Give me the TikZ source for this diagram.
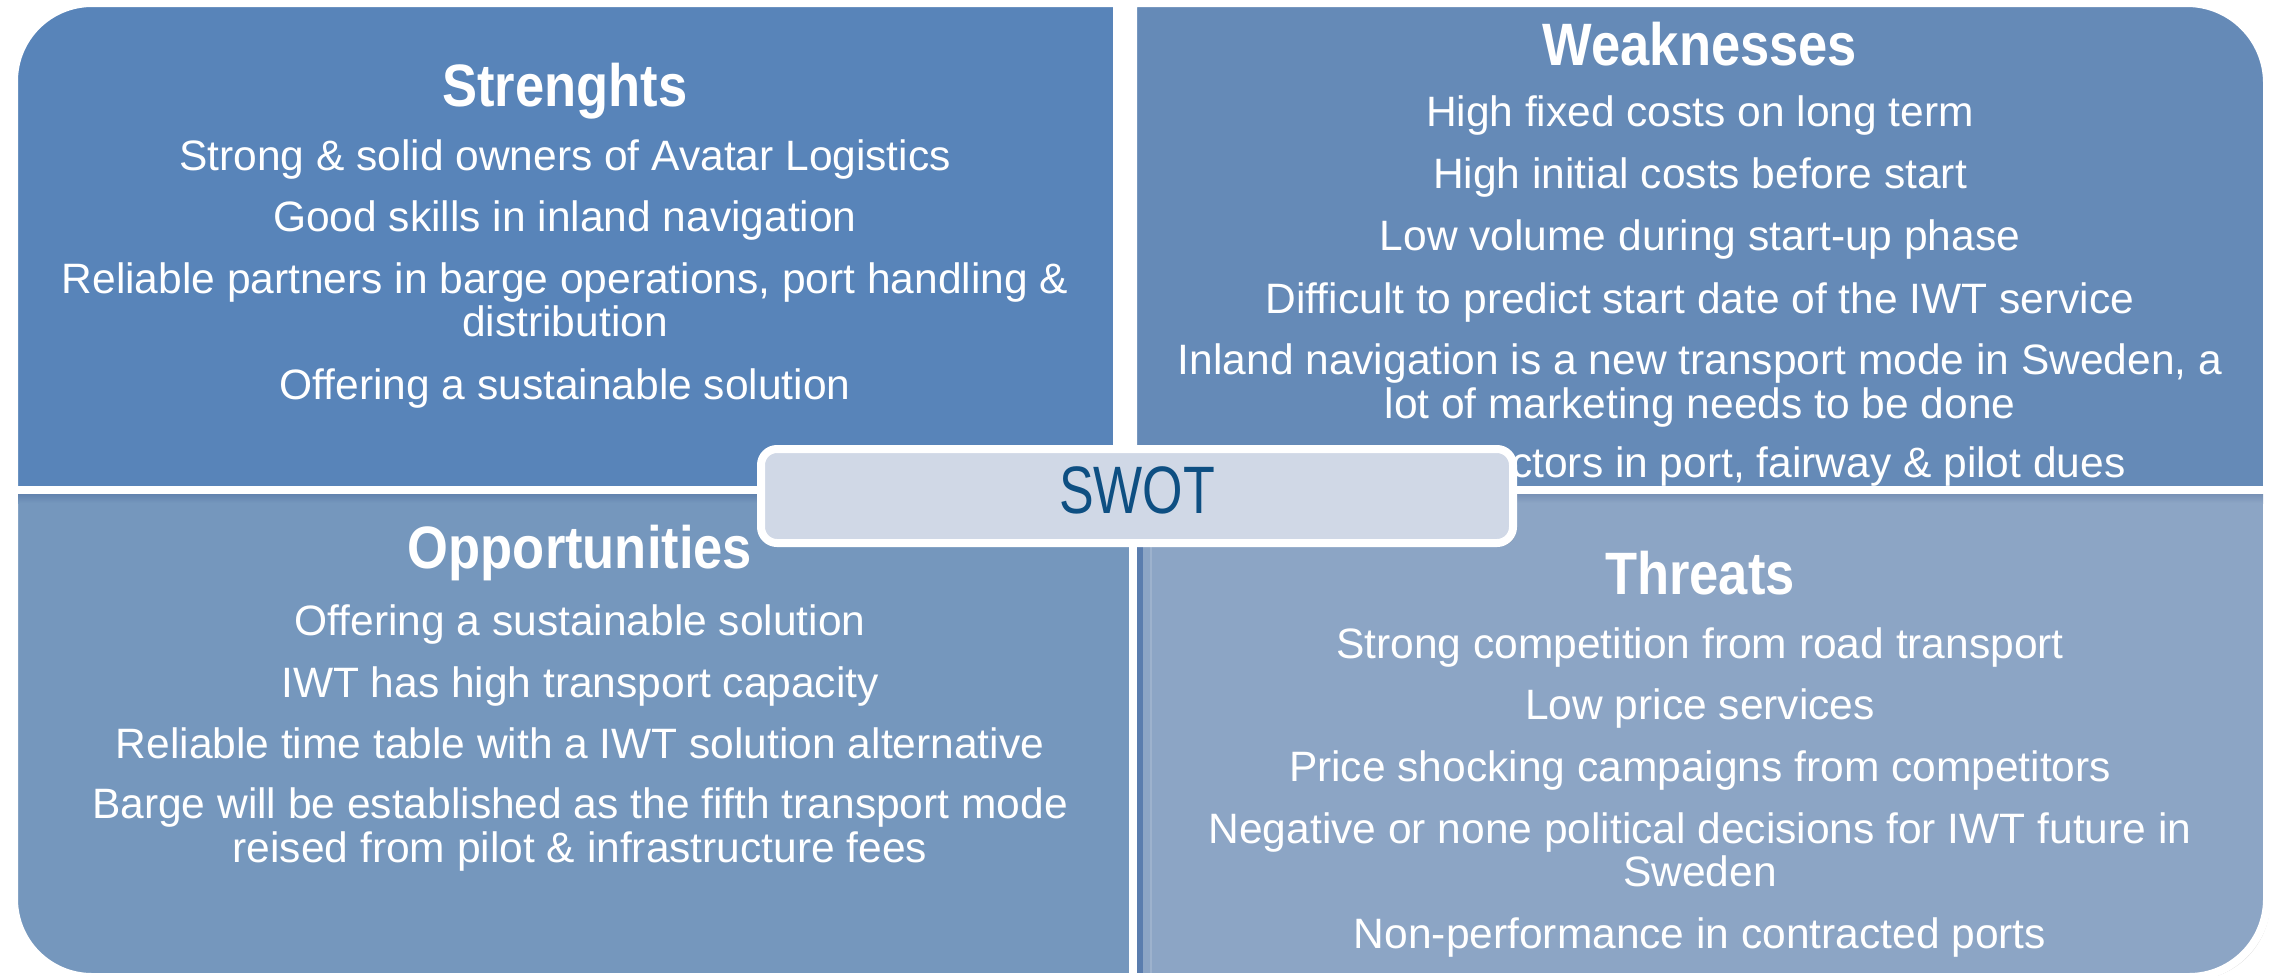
\documentclass[tikz,border=0pt]{standalone}
\usepackage{fontspec}
\usepackage{graphicx}
\setmainfont{Liberation Sans}
\usetikzlibrary{shadows}

\definecolor{cS}{HTML}{5884B9}
\definecolor{cW}{HTML}{658AB7}
\definecolor{cO}{HTML}{7597BD}
\definecolor{cT}{HTML}{8CA5C5}
\definecolor{cOtop}{HTML}{6283AE}
\definecolor{cTtop}{HTML}{7891B5}
\definecolor{cStrip}{HTML}{5A7DAE}
\definecolor{cSwotFill}{HTML}{D0D8E6}
\definecolor{cSwotText}{HTML}{0E4F82}

\newcommand{\quadtitle}[1]{\scalebox{1}[1.14]{\bfseries #1}}

\begin{document}
\begin{tikzpicture}[x=1pt,y=-1pt,
  quad/.style={draw=white, line width=8pt,
    drop shadow={shadow xshift=3pt, shadow yshift=-3pt, opacity=0.18, fill=black}},
  body/.style={text=white, font=\fontsize{42.5}{44}\selectfont, anchor=base, inner sep=0pt},
  head/.style={text=white, font=\fontsize{52.5}{56}\selectfont, anchor=base, inner sep=0pt},
  swotbox/.style={draw=white, line width=8pt, fill=cSwotFill, rounded corners=16pt,
    minimum width=752pt, minimum height=94pt, inner sep=0pt,
    drop shadow={shadow xshift=3pt, shadow yshift=-3pt, opacity=0.25, fill=black}},
  swotlabel/.style={text=cSwotText, font=\fontsize{52}{56}\selectfont, anchor=base, inner sep=0pt}]

\useasboundingbox (0,0) rectangle (2282,975);

% four quadrants, each rounded at its outer corner
\path[quad, fill=cS] (14,490) -- (14,81)
  arc[start angle=180, end angle=90, radius=78pt] -- (1117,3) -- (1117,490) -- cycle;
\path[quad, fill=cW] (1133,490) -- (1133,3) -- (2187,3)
  arc[start angle=90, end angle=0, radius=80pt] -- (2267,490) -- cycle;
\path[quad, fill=cO] (14,490) -- (1133,490) -- (1133,977) -- (92,977)
  arc[start angle=270, end angle=180, radius=78pt] -- cycle;
\path[quad, fill=cT] (1133,490) -- (2267,490) -- (2267,899)
  arc[start angle=0, end angle=-90, radius=78pt] -- (1133,977) -- cycle;

% inner shading along the top of the lower quadrants
\shade[top color=cOtop, bottom color=cO] (18,494) rectangle (1129,503);
\shade[top color=cTtop, bottom color=cT] (1137,494) rectangle (2263,503);
% edge strip on the left side of the threats quadrant
\fill[cStrip] (1137,494) rectangle (1143,973);
\draw[white, opacity=0.15, line width=1.5pt] (1151,494) -- (1151,973);

% Strengths
\node[head] (sT) at (565,106) {\quadtitle{Strenghts}};
\node[body] (s1) at (565,170) {Strong \& solid owners of Avatar Logistics};
\node[body] (s2) at (565,231) {Good skills in inland navigation};
\node[body] (s3a) at (565,293) {Reliable partners in barge operations, port handling \&};
\node[body] (s3b) at (565,336) {distribution};
\node[body] (s4) at (565,399) {Offering a sustainable solution};

% Weaknesses
\node[head] (wT) at (1700,65) {\quadtitle{Weaknesses}};
\node[body] (w1) at (1700,126) {High fixed costs on long term};
\node[body] (w2) at (1700,188) {High initial costs before start};
\node[body] (w3) at (1700,250) {Low volume during start-up phase};
\node[body] (w4) at (1700,313) {Difficult to predict start date of the IWT service};
\node[body] (w5a) at (1700,374) {Inland navigation is a new transport mode in Sweden, a};
\node[body] (w5b) at (1700,418) {lot of marketing needs to be done};
\node[body, anchor=base west] (w6) at (1511,477) {ctors in port, fairway \& pilot dues};

% Opportunities
\node[head] (oT) at (580,568) {\quadtitle{Opportunities}};
\node[body] (o1) at (580,635) {Offering a sustainable solution};
\node[body] (o2) at (580,697) {IWT has high transport capacity};
\node[body] (o3) at (580,758) {Reliable time table with a IWT solution alternative};
\node[body] (o4a) at (580,818) {Barge will be established as the fifth transport mode};
\node[body] (o4b) at (580,862) {reised from pilot \& infrastructure fees};

% Threats
\node[head] (tT) at (1700,594) {\quadtitle{Threats}};
\node[body] (t1) at (1700,658) {Strong competition from road transport};
\node[body] (t2) at (1700,719) {Low price services};
\node[body] (t3) at (1700,781) {Price shocking campaigns from competitors};
\node[body] (t4a) at (1700,843) {Negative or none political decisions for IWT future in};
\node[body] (t4b) at (1700,886) {Sweden};
\node[body] (t5) at (1700,948) {Non-performance in contracted ports};

% central SWOT label
\node[swotbox] (swot) at (1137,496) {};
\node[swotlabel] (swottext) at (1137,513) {\scalebox{1}[1.29]{SWOT}};

\end{tikzpicture}
\end{document}
